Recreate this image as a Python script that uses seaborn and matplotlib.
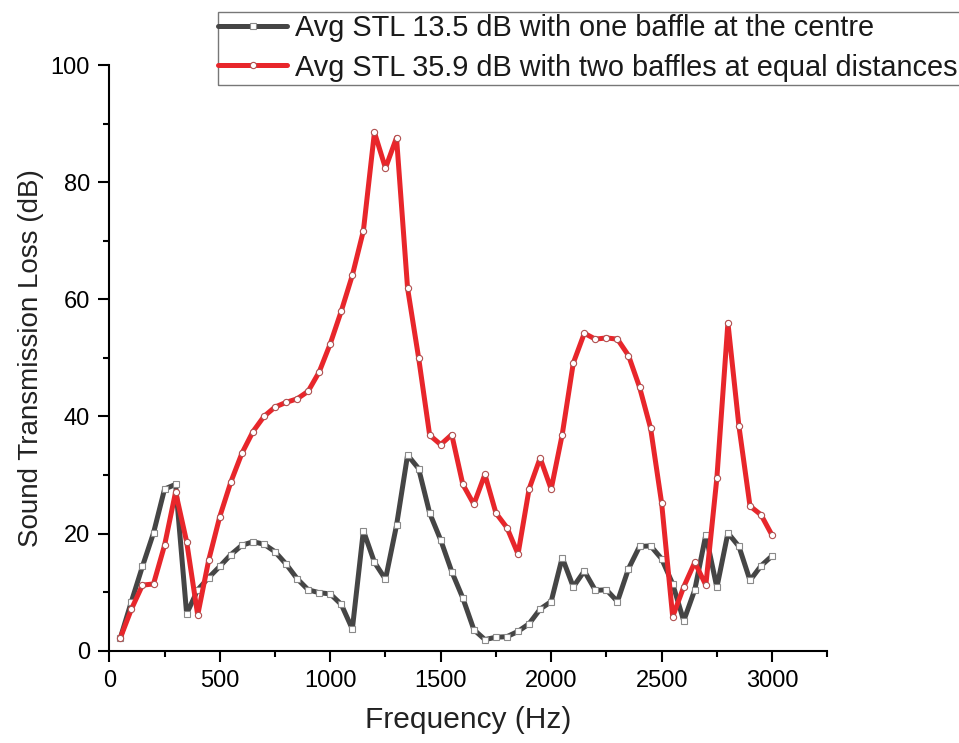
import matplotlib
matplotlib.use("Agg")
import matplotlib.pyplot as plt
import seaborn as sns
import pandas as pd
from matplotlib.ticker import MultipleLocator
from matplotlib.patches import Rectangle

freq = [50, 100, 150, 200, 250, 300, 350, 400, 450, 500,
        550, 600, 650, 700, 750, 800, 850, 900, 950, 1000,
        1050, 1100, 1150, 1200, 1250, 1300, 1350, 1400, 1450, 1500,
        1550, 1600, 1650, 1700, 1750, 1800, 1850, 1900, 1950, 2000,
        2050, 2100, 2150, 2200, 2250, 2300, 2350, 2400, 2450, 2500,
        2550, 2600, 2650, 2700, 2750, 2800, 2850, 2900, 2950, 3000]

one_baffle = [2.2, 8.4, 14.4, 20.1, 27.6, 28.4, 6.3, 10.4, 12.5, 14.4,
              16.4, 18.0, 18.6, 18.2, 16.9, 14.8, 12.3, 10.4, 9.9, 9.7,
              7.9, 3.7, 20.5, 15.1, 12.2, 21.4, 33.4, 31.1, 23.5, 18.9,
              13.5, 9.0, 3.6, 1.9, 2.3, 2.4, 3.3, 4.6, 7.1, 8.4,
              15.9, 10.9, 13.6, 10.3, 10.4, 8.4, 14.0, 17.8, 17.9, 15.7,
              11.4, 5.1, 10.4, 19.8, 10.8, 20.1, 17.8, 12.0, 14.5, 16.2]

two_baffles = [2.2, 7.1, 11.2, 11.4, 18.0, 27.1, 18.6, 6.1, 15.5, 22.9,
               28.8, 33.7, 37.4, 40.0, 41.6, 42.4, 43.0, 44.3, 47.6, 52.4,
               58.0, 64.1, 71.7, 88.5, 82.4, 87.6, 61.9, 50.0, 36.8, 35.2,
               36.9, 28.4, 25.0, 30.1, 23.5, 21.0, 16.5, 27.6, 32.9, 27.6,
               36.9, 49.1, 54.2, 53.2, 53.4, 53.2, 50.4, 45.0, 38.0, 25.2,
               5.8, 10.9, 15.1, 11.2, 29.5, 56.0, 38.3, 24.7, 23.2, 19.7]

labels = ["Avg STL 13.5 dB with one baffle at the centre",
          "Avg STL 35.9 dB with two baffles at equal distances"]

sns.set_theme(style="ticks")
plt.rcParams["font.family"] = ["Liberation Sans", "DejaVu Sans"]
plt.rcParams["text.color"] = "black"
plt.rcParams["axes.labelcolor"] = "black"

fig = plt.figure(figsize=(9.59, 7.43), dpi=100)
ax = fig.add_axes([0.114, 0.1242, 0.7487, 0.7883])

df1 = pd.DataFrame({"Frequency": freq, "STL": one_baffle})
df2 = pd.DataFrame({"Frequency": freq, "STL": two_baffles})

sns.lineplot(data=df1, x="Frequency", y="STL", ax=ax, color="#454545",
             linewidth=3.6, marker="s", markersize=4.5,
             markerfacecolor="white", markeredgecolor="#8a8a8a",
             markeredgewidth=0.8, label=labels[0], zorder=2)
sns.lineplot(data=df2, x="Frequency", y="STL", ax=ax, color="#e8262b",
             linewidth=3.6, marker="o", markersize=4.5,
             markerfacecolor="white", markeredgecolor="#b05050",
             markeredgewidth=0.8, label=labels[1], zorder=3)

ax.set_xlim(0, 3250)
ax.set_ylim(0, 100)
ax.xaxis.set_major_locator(MultipleLocator(500))
ax.xaxis.set_minor_locator(MultipleLocator(250))
ax.yaxis.set_major_locator(MultipleLocator(20))
ax.yaxis.set_minor_locator(MultipleLocator(10))
ax.tick_params(axis="both", which="major", direction="out", length=8,
               width=1.5, labelsize=17, colors="black", pad=6)
ax.tick_params(axis="both", which="minor", direction="out", length=4.5,
               width=1.5, colors="black")
for s in ["top", "right"]:
    ax.spines[s].set_visible(False)
for s in ["left", "bottom"]:
    ax.spines[s].set_linewidth(1.5)
    ax.spines[s].set_color("black")

ax.set_xlabel("Frequency (Hz)", fontsize=21.5, labelpad=10, color="#222222")
ax.set_ylabel("Sound Transmission Loss (dB)", fontsize=20, labelpad=5,
              color="#222222")

ax.get_legend().remove()
handles, lbls = ax.get_legend_handles_labels()
leg = fig.legend(handles, lbls, loc="upper left",
                 bbox_to_anchor=(218 / 959, 1 - 14 / 743),
                 fontsize=20.8, frameon=False, handlelength=2.4,
                 handletextpad=0.25, borderpad=0.0, labelspacing=0.4,
                 borderaxespad=0)
for t in leg.get_texts():
    t.set_color("#1a1a1a")

# legend frame, running off the right edge of the figure like the reference
fig.patches.append(Rectangle((218 / 959, 1 - 85 / 743), 1.0, 73 / 743,
                             transform=fig.transFigure, fill=False,
                             edgecolor="#777777", linewidth=1.0))

fig.savefig("out.png", dpi=100)
